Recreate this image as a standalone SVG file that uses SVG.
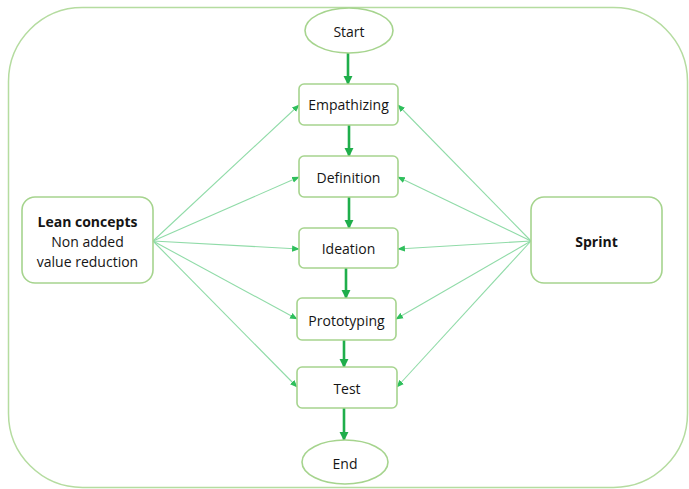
<svg xmlns="http://www.w3.org/2000/svg" width="689" height="489" viewBox="0 0 689 489">
<defs>
<style>
.frame{fill:none;stroke:#b5dca0;stroke-width:1.5}
.box{fill:#fff;stroke:#a6d48e;stroke-width:1.6}
.t{font-family:"Open Sans","Liberation Sans",sans-serif;font-size:14px;fill:#151515;text-anchor:middle;dominant-baseline:central}
.b{font-weight:bold}
.main{stroke:#1fae4b;stroke-width:2.6;fill:none}
.thin{stroke:#90dba8;stroke-width:1.1;fill:none}
</style>
<marker id="am" viewBox="0 0 10 10" refX="9" refY="5" markerWidth="3.6" markerHeight="3.6" orient="auto" markerUnits="strokeWidth"><path d="M0,0 L10,5 L0,10 z" fill="#1fae4b"/></marker>
<marker id="at" viewBox="0 0 10 10" refX="9" refY="5" markerWidth="7" markerHeight="7" orient="auto" markerUnits="strokeWidth"><path d="M0,1 L10,5 L0,9 z" fill="#2fbf5c"/></marker>
</defs>
<rect class="frame" x="8.5" y="7.5" width="679" height="480" rx="74"/>
<g id="connectors">
<line class="main" x1="348" y1="53" x2="348" y2="84" marker-end="url(#am)"/>
<line class="main" x1="349" y1="125" x2="349" y2="156" marker-end="url(#am)"/>
<line class="main" x1="349" y1="197" x2="349" y2="228" marker-end="url(#am)"/>
<line class="main" x1="346" y1="268" x2="346" y2="298" marker-end="url(#am)"/>
<line class="main" x1="344" y1="340" x2="344" y2="367" marker-end="url(#am)"/>
<line class="main" x1="344" y1="408" x2="344" y2="440" marker-end="url(#am)"/>
<line class="thin" x1="153" y1="241" x2="299" y2="105" marker-end="url(#at)"/>
<line class="thin" x1="153" y1="241" x2="299" y2="177" marker-end="url(#at)"/>
<line class="thin" x1="153" y1="241" x2="299" y2="249" marker-end="url(#at)"/>
<line class="thin" x1="153" y1="241" x2="297" y2="319" marker-end="url(#at)"/>
<line class="thin" x1="153" y1="241" x2="297" y2="387" marker-end="url(#at)"/>
<line class="thin" x1="531" y1="241" x2="398" y2="105" marker-end="url(#at)"/>
<line class="thin" x1="531" y1="241" x2="398" y2="177" marker-end="url(#at)"/>
<line class="thin" x1="531" y1="241" x2="398" y2="249" marker-end="url(#at)"/>
<line class="thin" x1="531" y1="241" x2="396" y2="319" marker-end="url(#at)"/>
<line class="thin" x1="531" y1="241" x2="397" y2="387" marker-end="url(#at)"/>
</g>
<g id="start"><ellipse class="box" cx="349" cy="30.5" rx="44" ry="22.5"/><text class="t" x="349" y="31">Start</text></g>
<g id="empathizing"><rect class="box" x="299" y="84" width="99" height="41" rx="5"/><text class="t" x="348.5" y="104.5">Empathizing</text></g>
<g id="definition"><rect class="box" x="299" y="156" width="99" height="41" rx="5"/><text class="t" x="348.5" y="177">Definition</text></g>
<g id="ideation"><rect class="box" x="299" y="228" width="99" height="40" rx="5"/><text class="t" x="348.5" y="248.5">Ideation</text></g>
<g id="prototyping"><rect class="box" x="297" y="298" width="99" height="42" rx="5"/><text class="t" x="346.5" y="320">Prototyping</text></g>
<g id="test"><rect class="box" x="297" y="367" width="100" height="41" rx="5"/><text class="t" x="347" y="388">Test</text></g>
<g id="end"><ellipse class="box" cx="345" cy="462" rx="43" ry="22"/><text class="t" x="345" y="463">End</text></g>
<g id="lean"><rect class="box" x="22" y="197" width="131" height="86" rx="13"/><text class="t b" x="87.5" y="221.5">Lean concepts</text><text class="t" x="87.5" y="241.5">Non added</text><text class="t" x="87.5" y="261.5">value reduction</text></g>
<g id="sprint"><rect class="box" x="531" y="197" width="131" height="86" rx="13"/><text class="t b" x="596.5" y="241">Sprint</text></g>
</svg>
